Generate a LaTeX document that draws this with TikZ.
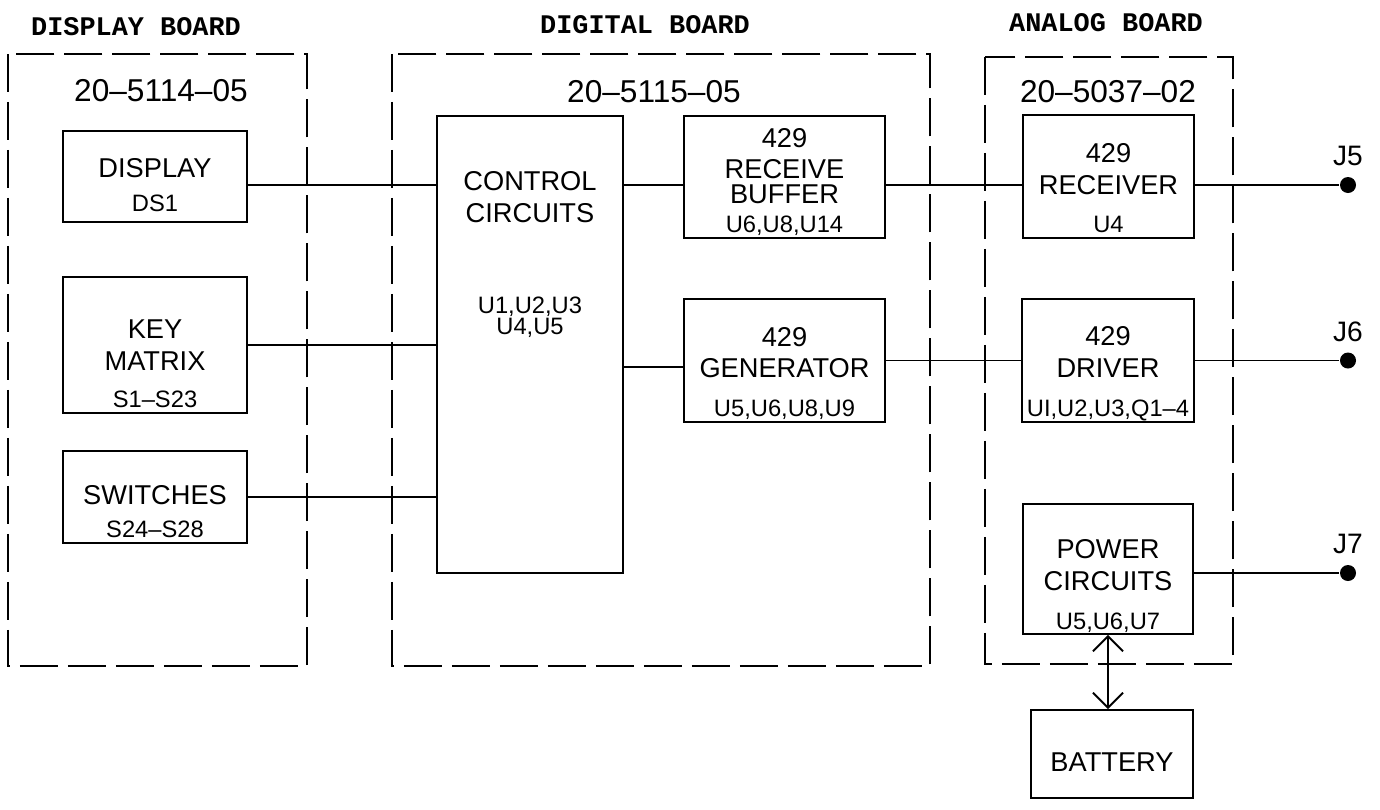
\documentclass[tikz,border=0pt]{standalone}
\usepackage{fontspec}
\setmainfont{Liberation Sans}
\newfontfamily\boardfont{Liberation Mono}
\usetikzlibrary{arrows.meta}

\begin{document}
\begin{tikzpicture}[x=0.02cm, y=-0.02cm, line width=1.1pt,
    >={Straight Barb[length=0.3cm, width=0.6cm]},
    board/.style={draw, dash pattern=on 0.76cm off 0.2cm},
    boardname/.style={font=\boardfont\bfseries\fontsize{15.3}{18}\selectfont},
    partno/.style={font=\fontsize{18}{20}\selectfont},
    blk/.style={draw, inner sep=0pt},
    main/.style={align=center, font=\fontsize{15.5}{18}\selectfont},
    sub/.style={align=center, font=\fontsize{13.5}{12}\selectfont},
    subbase/.style={sub, anchor=base, yshift=0.13cm},
    jack/.style={circle, fill, inner sep=0pt, minimum size=0.32cm},
    jname/.style={font=\fontsize{16}{18}\selectfont, label distance=0.06cm}]
    \useasboundingbox (0,0) rectangle (1380,809);

    \draw[board] (8,54) rectangle (307,666);
    \draw[board] (392,54) rectangle (930,666);
    \draw[board] (985,57) rectangle (1233,664);
    \node[boardname] (dispname) at (136,27) {DISPLAY BOARD};
    \node[boardname] (digname) at (645,25) {DIGITAL BOARD};
    \node[boardname] (ananame) at (1106,23) {ANALOG BOARD};
    \node[partno] (disppn) at (161,91) {20--5114--05};
    \node[partno] (digpn) at (654,92) {20--5115--05};
    \node[partno] (anapn) at (1108,92) {20--5037--02};

    \node[blk, minimum width=3.68cm, minimum height=1.82cm,
        label={[main, yshift=0.17cm]center:DISPLAY},
        label={[subbase, yshift=0.1cm]south:DS1}] (disp) at (155,176.5) {};
    \node[blk, minimum width=3.68cm, minimum height=2.72cm,
        label={[main]center:KEY\\MATRIX},
        label={[subbase]south:S1--S23}] (keym) at (155,345) {};
    \node[blk, minimum width=3.68cm, minimum height=1.84cm,
        label={[main, yshift=0.04cm]center:SWITCHES},
        label={[subbase]south:S24--S28}] (swit) at (155,497) {};

    \node[blk, minimum width=3.72cm, minimum height=9.14cm,
        label={[main, yshift=2.95cm]center:CONTROL\\CIRCUITS},
        label={[sub, yshift=0.54cm]center:U1,U2,U3\\U4,U5}] (ctrl) at (530,344.5) {};
    \node[blk, minimum width=4.02cm, minimum height=2.44cm,
        label={[main, yshift=0.22cm]center:429\\RECEIVE\\[-4pt]BUFFER},
        label={[subbase]south:U6,U8,U14}] (rbuf) at (784.5,177) {};
    \node[blk, minimum width=4.02cm, minimum height=2.46cm,
        label={[main, yshift=0.16cm]center:429\\GENERATOR},
        label={[subbase]south:U5,U6,U8,U9}] (gen) at (784.5,360.5) {};

    \node[blk, minimum width=3.42cm, minimum height=2.46cm,
        label={[main, yshift=0.15cm]center:429\\RECEIVER},
        label={[subbase]south:U4}] (rcv) at (1108.5,176.5) {};
    \node[blk, minimum width=3.44cm, minimum height=2.46cm,
        label={[main, yshift=0.17cm]center:429\\DRIVER},
        label={[subbase]south:UI,U2,U3,Q1--4}] (drv) at (1108,360.5) {};
    \node[blk, minimum width=3.4cm, minimum height=2.6cm,
        label={[main, yshift=0.08cm]center:POWER\\CIRCUITS},
        label={[subbase, yshift=-0.02cm]south:U5,U6,U7}] (pwr) at (1108,569) {};
    \node[blk, minimum width=3.24cm, minimum height=1.76cm,
        label={[main, yshift=-0.16cm]center:BATTERY}] (bat) at (1112,754) {};

    \node[jack, label={[jname]above:J5}] (j5) at (1348,185) {};
    \node[jack, label={[jname]above:J6}] (j6) at (1348,360.5) {};
    \node[jack, label={[jname]above:J7}] (j7) at (1348,573) {};

    \draw (disp.east |- j5) -- (ctrl.west |- j5);
    \draw (keym.east) -- (keym.east -| ctrl.west);
    \draw (swit.east) -- (swit.east -| ctrl.west);
    \draw (ctrl.east |- j5) -- (rbuf.west |- j5);
    \draw ([yshift=-0.13cm]gen.west -| ctrl.east) -- ([yshift=-0.13cm]gen.west);
    \draw (rbuf.east |- j5) -- (rcv.west |- j5);
    \draw (gen.east) -- (drv.west);
    \draw (rcv.east |- j5) -- (j5);
    \draw (drv.east) -- (j6);
    \draw (pwr.east |- j7) -- (j7);
    \draw[<->] (pwr.south) -- (pwr.south |- bat.north);
\end{tikzpicture}
\end{document}
